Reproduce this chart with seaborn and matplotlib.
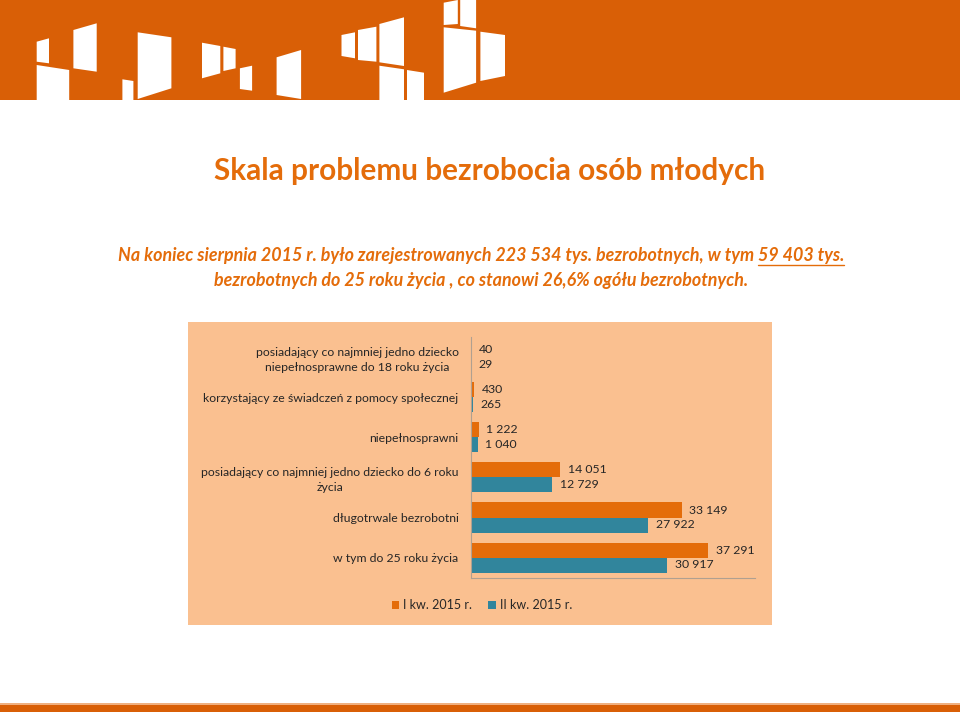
import matplotlib
matplotlib.use("Agg")
from matplotlib import pyplot as plt
from matplotlib.patches import Polygon, Rectangle
import seaborn as sns
import pandas as pd

sns.set_theme(style="white")
plt.rcParams['font.family'] = ['Lato', 'DejaVu Sans']

# dane z wykresu
categories = [
    "posiadający co najmniej jedno dziecko\nniepełnosprawne do 18 roku życia",
    "korzystający ze świadczeń z pomocy społecznej",
    "niepełnosprawni",
    "posiadający co najmniej jedno dziecko do 6 roku\nżycia",
    "długotrwale bezrobotni",
    "w tym do 25 roku życia",
]
q1_values = [40, 430, 1222, 14051, 33149, 37291]
q2_values = [29, 265, 1040, 12729, 27922, 30917]
series_names = ["I kw. 2015 r.", "II kw. 2015 r."]

title = "Skala problemu bezrobocia osób młodych"
sub1a = "Na koniec sierpnia 2015 r. było zarejestrowanych 223 534 tys. bezrobotnych, w tym "
sub1b = "59 403 tys."
sub2 = "bezrobotnych do 25 roku życia , co stanowi 26,6% ogółu bezrobotnych."

ORANGE = "#E46C0A"
BLUE = "#31859C"
HEADER = "#D95F06"
PANEL = "#FAC090"
TEXT = "#262626"

df = pd.DataFrame({
    "kategoria": categories * 2,
    "wartosc": q1_values + q2_values,
    "okres": [series_names[0]] * len(categories) + [series_names[1]] * len(categories),
})

W, H = 960, 712
fig = plt.figure(figsize=(W / 100, H / 100), dpi=100)
fig.patch.set_facecolor("white")

# tlo slajdu w pikselach
bg = fig.add_axes([0, 0, 1, 1])
bg.set_xlim(0, W)
bg.set_ylim(H, 0)
bg.axis("off")
bg.add_patch(Rectangle((0, 0), W, 100, color=HEADER, lw=0))
bg.add_patch(Rectangle((0, 703), W, 2, color="#F0B080", lw=0))
bg.add_patch(Rectangle((0, 705), W, 7, color=HEADER, lw=0))
bg.add_patch(Rectangle((188, 322), 584, 303, color=PANEL, lw=0))

# logo - biale ksztalty
logo = [
    [(36.7, 41.7), (49, 38.3), (49, 63.3), (36.7, 61.7)],
    [(36.7, 65), (69.2, 70), (69.2, 100), (36.7, 100)],
    [(73.4, 30), (96.7, 23.3), (96.7, 71.7), (73.4, 68.3)],
    [(122.4, 79.3), (133.4, 81), (133.4, 100), (122.4, 100)],
    [(137.7, 32.3), (171.4, 37.3), (171.4, 88.3), (137.7, 99)],
    [(202, 42.7), (220.3, 46), (220.3, 73.3), (202, 78.3)],
    [(223.4, 46.7), (235.6, 49), (235.6, 68.3), (223.4, 71)],
    [(239.9, 68.3), (252.1, 65.7), (252.1, 90.7), (239.9, 89)],
    [(276.6, 57.3), (301.1, 50), (301.1, 99), (276.6, 95)],
    [(341.5, 35), (355, 32.3), (355, 58.3), (341.5, 56)],
    [(358, 30), (376.4, 26.7), (376.4, 61.7), (358, 60)],
    [(379.4, 24), (404, 17.3), (404, 66), (379.4, 62.3)],
    [(379.4, 65.7), (404, 69.3), (404, 100), (379.4, 100)],
    [(407, 70), (424, 72.7), (424, 100), (407, 100)],
    [(443.7, 2.7), (457.8, 0), (457.8, 24), (443.7, 25)],
    [(460.2, 0), (476.1, 0), (476.1, 28.3), (460.2, 26)],
    [(443.7, 27.3), (476.1, 30.7), (476.1, 82.7), (443.7, 92.7)],
    [(480.4, 31.7), (505, 35), (505, 76), (480.4, 81)],
]
for pts in logo:
    bg.add_patch(Polygon(pts, closed=True, color="white", lw=0))

# tytul i podtytul
fig.text(490 / W, 1 - 171 / H, title, ha="center", va="center",
         fontsize=21.4, fontweight="bold", color=ORANGE)

renderer = fig.canvas.get_renderer()
ta = fig.text(0, 1 - 256 / H, sub1a, ha="left", va="center", fontsize=12.9,
              fontweight="bold", fontstyle="italic", color=ORANGE)
tb = fig.text(0, 1 - 256 / H, sub1b, ha="left", va="center", fontsize=12.9,
              fontweight="bold", fontstyle="italic", color=ORANGE)
wa = ta.get_window_extent(renderer).width
wb = tb.get_window_extent(renderer).width
x0 = 481 - (wa + wb) / 2
ta.set_x(x0 / W)
tb.set_x((x0 + wa) / W)
bg.plot([x0 + wa, x0 + wa + wb], [265, 265], color=ORANGE, lw=1)
fig.text(481 / W, 1 - 280 / H, sub2, ha="center", va="center", fontsize=12.9,
         fontweight="bold", fontstyle="italic", color=ORANGE)

# wykres
ax = fig.add_axes([471 / W, 1 - 577.5 / H, 284 / W, 240 / H])
ax.set_facecolor("none")
sns.barplot(data=df, y="kategoria", x="wartosc", hue="okres", orient="h",
            palette=[ORANGE, BLUE], width=0.75, saturation=1, linewidth=0,
            ax=ax, legend=True)
ax.set_xlim(0, 44700)
ax.set_xlabel("")
ax.set_ylabel("")
ax.set_xticks([])
ax.tick_params(axis="y", length=0, pad=9, labelsize=8.8, labelcolor=TEXT)
for lbl in ax.get_yticklabels():
    lbl.set_linespacing(1.4)
    lbl.set_multialignment("center")
for s in ["top", "right"]:
    ax.spines[s].set_visible(False)
for s in ["left", "bottom"]:
    ax.spines[s].set_color("#B0A090")
    ax.spines[s].set_linewidth(0.8)

for cont in ax.containers:
    vals = [int(b.get_width()) for b in cont]
    ax.bar_label(cont, labels=[f"{v:,}".replace(",", " ") for v in vals],
                 padding=5.5, fontsize=8.8, color=TEXT)

ax.legend_.remove()
handles, labels = ax.get_legend_handles_labels()
fig.legend(handles, labels, loc="center", bbox_to_anchor=(482 / W, 1 - 605 / H),
           ncol=2, frameon=False, fontsize=9, handlelength=0.6, handleheight=0.6,
           handletextpad=0.3, columnspacing=1.3, labelcolor=TEXT)

fig.savefig("out.png", dpi=100, facecolor="white")
